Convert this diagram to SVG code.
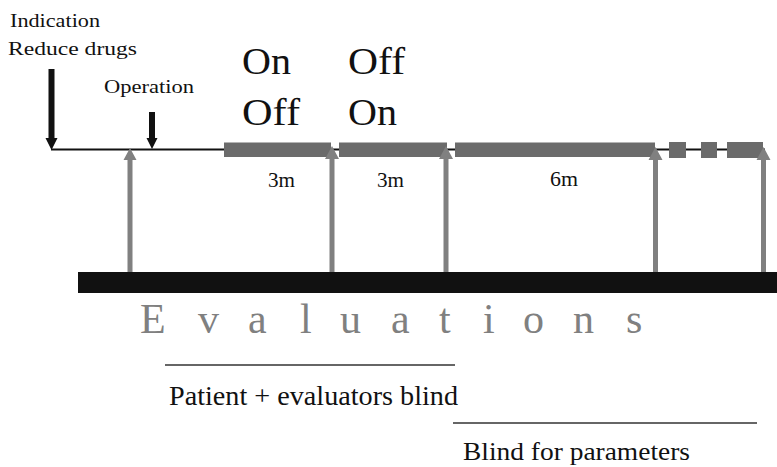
<svg xmlns="http://www.w3.org/2000/svg" width="777" height="467" viewBox="0 0 777 467">
<style>
.t{font-family:'Liberation Serif','Times New Roman',Times,serif;fill:#111}
.bar{fill:#6b6b6b}
.garrow{fill:#808080}
.barrow{fill:#111}
.rule{stroke:#333;stroke-width:1.5}
.eval{fill:#808080;font-size:42px}
.big{font-size:37px}
.lab{font-size:21px}
</style>
<rect width="777" height="467" fill="#fff"/>
<g id="labels-top">
<text class="t" x="10" y="27" font-size="19" textLength="90" lengthAdjust="spacingAndGlyphs">Indication</text>
<text class="t" x="8" y="55" font-size="19" textLength="129" lengthAdjust="spacingAndGlyphs">Reduce drugs</text>
<text class="t" x="104" y="93" font-size="19" textLength="90" lengthAdjust="spacingAndGlyphs">Operation</text>
</g>
<g id="phase1">
<text class="t big" x="242" y="74" textLength="49" lengthAdjust="spacingAndGlyphs">On</text>
<text class="t big" x="242" y="125" textLength="58" lengthAdjust="spacingAndGlyphs">Off</text>
<text class="t lab" x="268" y="187" textLength="27" lengthAdjust="spacingAndGlyphs">3m</text>
</g>
<g id="phase2">
<text class="t big" x="348" y="74" textLength="57" lengthAdjust="spacingAndGlyphs">Off</text>
<text class="t big" x="348" y="125" textLength="49" lengthAdjust="spacingAndGlyphs">On</text>
<text class="t lab" x="377" y="187" textLength="27" lengthAdjust="spacingAndGlyphs">3m</text>
</g>
<g id="phase3">
<text class="t lab" x="550" y="186" textLength="28" lengthAdjust="spacingAndGlyphs">6m</text>
</g>
<g id="connectors">
<line x1="51" y1="149.5" x2="765" y2="149.5" stroke="#111" stroke-width="2"/>
<rect class="bar" x="224" y="142.5" width="107" height="14.5"/>
<rect class="bar" x="339" y="142.5" width="108" height="14.5"/>
<rect class="bar" x="455" y="142.5" width="200" height="14.5"/>
<rect class="bar" x="669" y="142" width="17" height="16"/>
<rect class="bar" x="701" y="142" width="16" height="16"/>
<rect class="bar" x="727" y="142" width="36" height="16"/>
<polygon class="barrow" points="48.5,69 54.5,69 54.5,138 57.5,138 51.5,150 45.5,138 48.5,138"/>
<polygon class="barrow" points="149,112 155,112 155,138 157.5,138 152,149 146.5,138 149,138"/>
<polygon class="garrow" points="127.5,272 132.5,272 132.5,160 136.5,160 130,148 123.5,160 127.5,160"/>
<polygon class="garrow" points="329.5,272 334.5,272 334.5,159 339,159 332,146 325,159 329.5,159"/>
<polygon class="garrow" points="443.5,272 448.5,272 448.5,159 453,159 446,146 439,159 443.5,159"/>
<polygon class="garrow" points="653,272 658,272 658,160 662.5,160 655.5,147 648.5,160 653,160"/>
<polygon class="garrow" points="761,272 766,272 766,160 770.5,160 763.5,147 756.5,160 761,160"/>
</g>
<g id="evaluations">
<rect x="78" y="272" width="699" height="21" fill="#111"/>
<text class="t eval" y="333"><tspan x="140">E</tspan><tspan x="198">v</tspan><tspan x="248">a</tspan><tspan x="300">l</tspan><tspan x="340">u</tspan><tspan x="391">a</tspan><tspan x="439">t</tspan><tspan x="483">i</tspan><tspan x="523">o</tspan><tspan x="573">n</tspan><tspan x="626">s</tspan></text>
</g>
<g id="blind-patient">
<line class="rule" x1="165" y1="365" x2="455" y2="365"/>
<text class="t" x="169" y="405" font-size="27" textLength="289" lengthAdjust="spacingAndGlyphs">Patient + evaluators  blind</text>
</g>
<g id="blind-parameters">
<line class="rule" x1="453" y1="423" x2="757" y2="423"/>
<text class="t" x="463" y="460" font-size="26" textLength="227" lengthAdjust="spacingAndGlyphs">Blind for parameters</text>
</g>
</svg>
